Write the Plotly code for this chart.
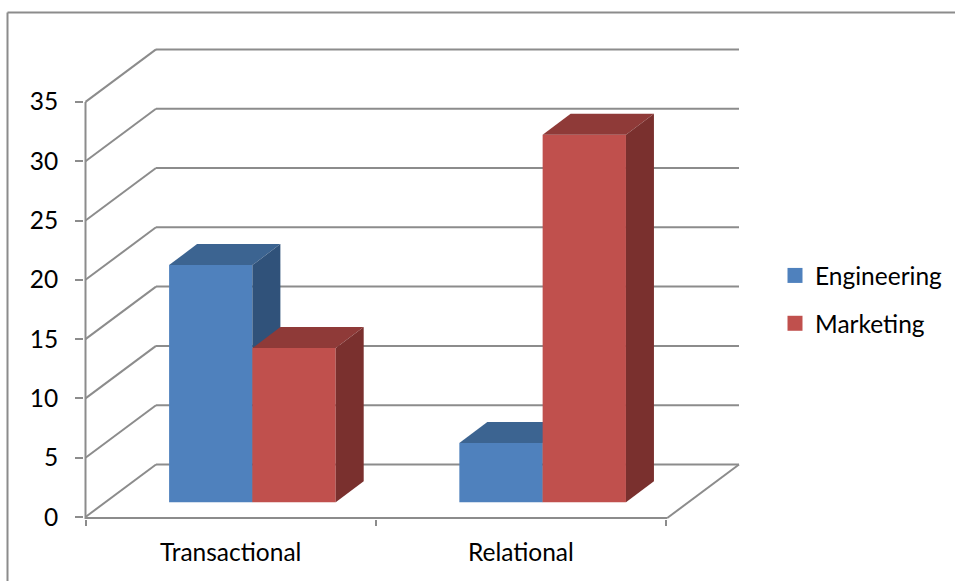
import plotly.graph_objects as go

# Chart values
categories = ["Transactional", "Relational"]
engineering = [20, 5]
marketing = [13, 31]
value_ticks = [0, 5, 10, 15, 20, 25, 30, 35]

# Colours
BLUE, BLUE_TOP, BLUE_SIDE = "#4F81BD", "#3C6491", "#30527A"
RED, RED_TOP, RED_SIDE = "#C0504D", "#8F3A38", "#7A302E"
GRID = "#8C8C8C"

# Scale of the axes in pixels per data unit
PX_X, PX_Y = 290.25, 11.86

# Oblique projection: wall depth and bar depth in data units
WALL_DX, WALL_DY = 70.5 / PX_X, 52.5 / PX_Y
BAR_DX, BAR_DY = 28 / PX_X, 21 / PX_Y
BAR_BASE = 14.7 / PX_Y
BAR_LEFT = 0.288
BAR_WIDTH = 0.287
WALL_END = 2.5 / PX_X
N = len(categories)

# Plot area in pixels
W, H = 955, 581
LEFT, RIGHT, TOP, BOTTOM = 84, 745, 40, 519
ORIGIN_X, ORIGIN_Y = 85.5, 517


def paper_x(px):
    return (px - LEFT) / (RIGHT - LEFT)


def paper_y(py):
    return (BOTTOM - py) / (BOTTOM - TOP)


def add_bar(fig, values, slot, front, top, side, xaxis, yaxis):
    """One series: front faces as bars, then the top and side faces from the same values."""
    lefts = [i + BAR_LEFT + slot * BAR_WIDTH for i in range(len(values))]
    fig.add_trace(go.Bar(
        x=[l + BAR_WIDTH / 2 for l in lefts], y=values, base=[BAR_BASE] * len(values),
        width=BAR_WIDTH, marker=dict(color=front, line=dict(width=0)),
        showlegend=False, hoverinfo="skip", xaxis=xaxis, yaxis=yaxis,
    ))
    for l, v in zip(lefts, values):
        r = l + BAR_WIDTH
        t = BAR_BASE + v
        fig.add_trace(go.Scatter(
            x=[l, l + BAR_DX, r + BAR_DX, r, l],
            y=[t, t + BAR_DY, t + BAR_DY, t, t],
            mode="none", fill="toself", fillcolor=top,
            showlegend=False, hoverinfo="skip", xaxis=xaxis, yaxis=yaxis,
        ))
        fig.add_trace(go.Scatter(
            x=[r, r + BAR_DX, r + BAR_DX, r, r],
            y=[BAR_BASE, BAR_BASE + BAR_DY, t + BAR_DY, t, BAR_BASE],
            mode="none", fill="toself", fillcolor=side,
            showlegend=False, hoverinfo="skip", xaxis=xaxis, yaxis=yaxis,
        ))


fig = go.Figure()

# Marketing sits on an overlaid subplot so that it covers the Engineering faces
add_bar(fig, engineering, 0, BLUE, BLUE_TOP, BLUE_SIDE, "x", "y")
add_bar(fig, marketing, 1, RED, RED_TOP, RED_SIDE, "x2", "y2")

# Legend entries
for name, colour in (("Engineering", BLUE), ("Marketing", RED)):
    fig.add_trace(go.Scatter(
        x=[None], y=[None], mode="markers", name=name, legendgroup=name,
        marker=dict(symbol="square", size=15, color=colour, line=dict(width=0)),
    ))

# Walls, floor and axis lines
line = dict(color=GRID, width=2)
shapes = []
for v in value_ticks:
    shapes.append(dict(type="line", xref="x", yref="y", layer="below", line=line,
                       x0=0, y0=v, x1=WALL_DX, y1=v + WALL_DY))
    shapes.append(dict(type="line", xref="x", yref="y", layer="below", line=line,
                       x0=WALL_DX, y0=v + WALL_DY, x1=N + WALL_DX + WALL_END, y1=v + WALL_DY))
shapes.append(dict(type="line", xref="x", yref="y", layer="below", line=line,
                   x0=N + WALL_END / 2, y0=-1 / PX_Y, x1=N + WALL_DX + WALL_END, y1=WALL_DY))
shapes.append(dict(type="line", xref="x", yref="y", layer="below", line=line,
                   x0=0, y0=-1 / PX_Y, x1=N + WALL_END / 2, y1=-1 / PX_Y))
shapes.append(dict(type="line", xref="x", yref="y", layer="below", line=line,
                   x0=0, y0=-2 / PX_Y, x1=0, y1=value_ticks[-1]))

# Chart frame, open at the bottom and right
frame = dict(color=GRID, width=2)
shapes.append(dict(type="line", xref="paper", yref="paper", line=frame,
                   x0=paper_x(7.5), y0=paper_y(12.5), x1=paper_x(7.5), y1=paper_y(H)))
shapes.append(dict(type="line", xref="paper", yref="paper", line=frame,
                   x0=paper_x(7.5), y0=paper_y(12.5), x1=paper_x(W), y1=paper_y(12.5)))

x_range = [(LEFT - ORIGIN_X) / PX_X, (RIGHT - ORIGIN_X) / PX_X]
y_range = [(ORIGIN_Y - BOTTOM) / PX_Y, (ORIGIN_Y - TOP) / PX_Y]
font = dict(family="Lato, Carlito, sans-serif", size=24.5, color="#000000")

fig.update_layout(
    width=W, height=H,
    margin=dict(l=LEFT, r=W - RIGHT, t=TOP, b=H - BOTTOM, autoexpand=False),
    paper_bgcolor="white", plot_bgcolor="white",
    font=font, barmode="overlay", shapes=shapes,
    xaxis=dict(
        range=x_range, showgrid=False, zeroline=False, showline=False,
        tickmode="array", tickvals=[i + 0.5 for i in range(N)], ticktext=categories,
        ticks="", ticklabelstandoff=16, tickfont=font,
        minor=dict(tickmode="array", tickvals=list(range(N + 1)), ticks="outside",
                   ticklen=6, tickwidth=2, tickcolor=GRID, showgrid=False),
    ),
    yaxis=dict(
        range=y_range, showgrid=False, zeroline=False, showline=False,
        tickmode="array", tickvals=value_ticks, ticks="outside",
        ticklen=8, tickwidth=2, tickcolor=GRID, ticklabelstandoff=12, tickfont=font,
    ),
    xaxis2=dict(range=x_range, overlaying="x", visible=False),
    yaxis2=dict(range=y_range, overlaying="y", visible=False),
    legend=dict(
        x=paper_x(785), y=paper_y(253), xanchor="left", yanchor="top",
        tracegroupgap=13, indentation=-10, font=font, bgcolor="rgba(0,0,0,0)",
    ),
)

fig.write_html("out.html")
